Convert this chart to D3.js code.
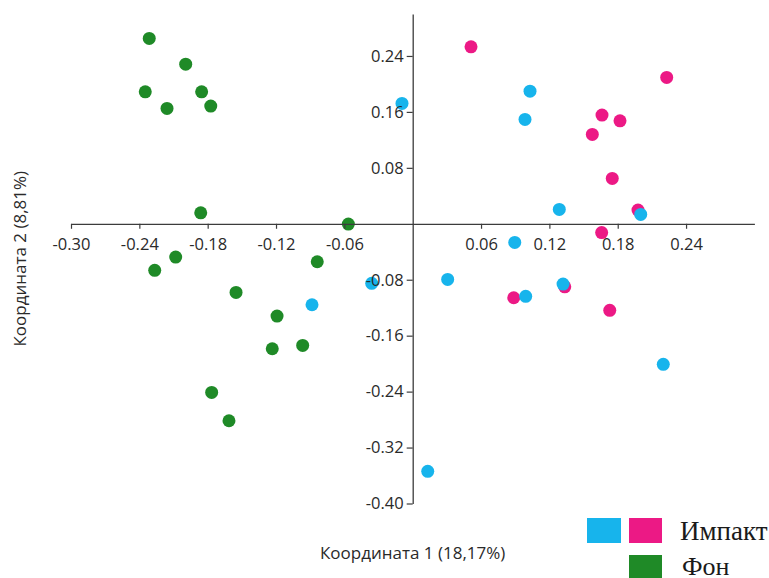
<!DOCTYPE html>
<html>
<head>
<meta charset="utf-8">
<script src="https://cdn.jsdelivr.net/npm/d3@7"></script>
<style>
  html, body { margin: 0; padding: 0; background: #fff; }
  svg { display: block; }
</style>
</head>
<body>
<svg id="chart" width="769" height="578"></svg>
<script>
// ---- data ----
const greenX = [-0.2313, -0.1993, -0.2348, -0.1853, -0.2157, -0.1773, -0.1861, -0.0565, -0.2081, -0.2265, -0.1551, -0.0838, -0.1191, -0.1233, -0.0966, -0.1765, -0.1613];
const greenY = [0.2651, 0.2283, 0.1887, 0.1887, 0.1650, 0.1683, 0.0157, -0.0004, -0.0476, -0.0666, -0.0981, -0.0543, -0.1320, -0.1787, -0.1739, -0.2411, -0.2817];

const pinkX = [0.0512, 0.2230, 0.1662, 0.1820, 0.1577, 0.1752, 0.1978, 0.1659, 0.0887, 0.1335, 0.1730];
const pinkY = [0.2531, 0.2093, 0.1554, 0.1473, 0.1278, 0.0649, 0.0196, -0.0126, -0.1058, -0.0901, -0.1238];

const blueX = [-0.0094, 0.1030, 0.0986, 0.1287, 0.2002, 0.0896, 0.0307, 0.0992, 0.1320, 0.2200, 0.0132, -0.0360, -0.0884];
const blueY = [0.1721, 0.1897, 0.1493, 0.0206, 0.0134, -0.0266, -0.0795, -0.1038, -0.0862, -0.2010, -0.3540, -0.0852, -0.1158];

const xTicks = [-0.30, -0.24, -0.18, -0.12, -0.06, 0.06, 0.12, 0.18, 0.24];
const yTicks = [0.24, 0.16, 0.08, -0.08, -0.16, -0.24, -0.32, -0.40];
const xTickLabels = ["-0.30", "-0.24", "-0.18", "-0.12", "-0.06", "0.06", "0.12", "0.18", "0.24"];
const yTickLabels = ["0.24", "0.16", "0.08", "-0.08", "-0.16", "-0.24", "-0.32", "-0.40"];

const xTitle = "Координата 1 (18,17%)";
const yTitle = "Координата 2 (8,81%)";
const legendLabels = ["Импакт", "Фон"];

// ---- styles ----
const BLUE = "#17b4ec", PINK = "#ec1985", GREEN = "#1f8a27";
const AXIS = "#3c3c3c";
const FONT = "'Open Sans', 'Noto Sans', sans-serif";

const svg = d3.select("#chart");

const x = d3.scaleLinear().domain([-0.30, 0.30]).range([71, 754.4]);
const y = d3.scaleLinear().domain([-0.40, 0.30]).range([503.5, 14]);

// points
const layer = svg.append("g");
function drawSeries(xs, ys, color) {
  layer.append("g").selectAll("circle")
    .data(xs.map((v, i) => [v, ys[i]]))
    .join("circle")
    .attr("cx", d => x(d[0]))
    .attr("cy", d => y(d[1]))
    .attr("r", 6.5)
    .attr("fill", color);
}
drawSeries(greenX, greenY, GREEN);
drawSeries(pinkX, pinkY, PINK);
drawSeries(blueX, blueY, BLUE);

// axes
const xLab = new Map(xTicks.map((t, i) => [t, xTickLabels[i]]));
const yLab = new Map(yTicks.map((t, i) => [t, yTickLabels[i]]));

const xAxis = svg.append("g")
  .attr("transform", `translate(0,${y(0)})`)
  .call(d3.axisBottom(x).tickValues(xTicks).tickSize(5).tickSizeOuter(0).tickPadding(10)
    .tickFormat(d => xLab.get(d)));

const yAxis = svg.append("g")
  .attr("transform", `translate(${x(0)},0)`)
  .call(d3.axisLeft(y).tickValues(yTicks).tickSize(6).tickSizeOuter(0).tickPadding(3)
    .tickFormat(d => yLab.get(d)));

[xAxis, yAxis].forEach(g => {
  g.select(".domain").attr("stroke", AXIS).attr("stroke-width", 1.3);
  g.selectAll(".tick line").attr("stroke", AXIS).attr("stroke-width", 1.2);
  g.selectAll(".tick text").attr("fill", "#2a2a2a")
    .style("font-family", FONT).style("font-size", "16.5px");
});

// axis titles
svg.append("text")
  .attr("x", x(0)).attr("y", 559)
  .attr("text-anchor", "middle")
  .style("font-family", FONT).style("font-size", "17px").attr("fill", "#2a2a2a")
  .text(xTitle);

svg.append("text")
  .attr("transform", `translate(26,${(y(0.30) + y(-0.40)) / 2}) rotate(-90)`)
  .attr("text-anchor", "middle")
  .style("font-family", FONT).style("font-size", "17px").attr("fill", "#2a2a2a")
  .text(yTitle);

// legend
const lg = svg.append("g");
lg.append("rect").attr("x", 587).attr("y", 518).attr("width", 34).attr("height", 25).attr("fill", BLUE);
lg.append("rect").attr("x", 629).attr("y", 518).attr("width", 33).attr("height", 25).attr("fill", PINK);
lg.append("rect").attr("x", 629).attr("y", 555).attr("width", 33).attr("height", 25).attr("fill", GREEN);
lg.append("text").attr("x", 680).attr("y", 540)
  .style("font-family", "'Liberation Serif', 'DejaVu Serif', serif").style("font-size", "27px").attr("fill", "#1a1a1a")
  .text(legendLabels[0]);
lg.append("text").attr("x", 682).attr("y", 575)
  .style("font-family", "'Liberation Serif', 'DejaVu Serif', serif").style("font-size", "26px").attr("fill", "#1a1a1a")
  .text(legendLabels[1]);
</script>
</body>
</html>
